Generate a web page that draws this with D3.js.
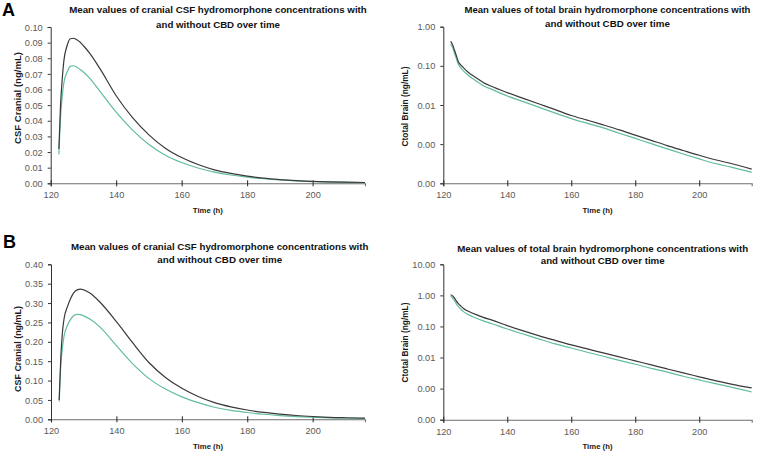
<!DOCTYPE html>
<html>
<head>
<meta charset="utf-8">
<script src="https://cdn.jsdelivr.net/npm/d3@7"></script>
<style>
  html, body { margin: 0; padding: 0; background: #ffffff; }
  svg { display: block; }
</style>
</head>
<body>
<svg id="chart" width="759" height="452"></svg>
<script>
// ---------------- DATA ----------------
const panelLetters = ["A", "B"];
const titleLine1CSF = "Mean values of cranial CSF hydromorphone concentrations with";
const titleLine1Brain = "Mean values of total brain hydromorphone concentrations with";
const titleLine2 = "and without CBD over time";
const yTitleCSF = "CSF Cranial (ng/mL)";
const yTitleBrain = "Ctotal Brain (ng/mL)";
const xTitle = "Time (h)";

const xTicks = [120, 140, 160, 180, 200];
const csfATicks = [0, 0.01, 0.02, 0.03, 0.04, 0.05, 0.06, 0.07, 0.08, 0.09, 0.10];
const csfBTicks = [0, 0.05, 0.10, 0.15, 0.20, 0.25, 0.30, 0.35, 0.40];
const brainATicks = [0.0001, 0.001, 0.01, 0.1, 1];
const brainBTicks = [0.0001, 0.001, 0.01, 0.1, 1, 10];

// Time points (h)
const timeCSF = [122.5, 123, 123.5, 124, 125, 126, 127, 128, 129, 130, 132, 135, 140, 145, 150, 155, 160, 165, 170, 175, 180, 185, 190, 195, 200, 205, 210, 216];
// Panel A – cranial CSF (ng/mL)
const csfA_without = [0.022, 0.050, 0.066, 0.078, 0.088, 0.0925, 0.0928, 0.0918, 0.0902, 0.088, 0.083, 0.0735, 0.056, 0.042, 0.031, 0.0225, 0.0165, 0.0120, 0.0086, 0.0063, 0.0046, 0.0033, 0.0024, 0.0017, 0.0012, 0.0009, 0.0007, 0.0005];
const csfA_with    = [0.0185, 0.042, 0.055, 0.064, 0.071, 0.0748, 0.0752, 0.0742, 0.0728, 0.0712, 0.067, 0.059, 0.0455, 0.034, 0.0248, 0.018, 0.0133, 0.0098, 0.0072, 0.0053, 0.0039, 0.0029, 0.0021, 0.0015, 0.0011, 0.0008, 0.0006, 0.0004];
// Panel B – cranial CSF (ng/mL)
const csfB_without = [0.05, 0.16, 0.225, 0.26, 0.29, 0.312, 0.327, 0.334, 0.336, 0.334, 0.325, 0.302, 0.252, 0.197, 0.146, 0.108, 0.080, 0.059, 0.043, 0.032, 0.024, 0.018, 0.0135, 0.0098, 0.0072, 0.0052, 0.004, 0.003];
const csfB_with    = [0.046, 0.14, 0.185, 0.215, 0.242, 0.258, 0.268, 0.271, 0.270, 0.267, 0.258, 0.238, 0.190, 0.143, 0.105, 0.078, 0.058, 0.043, 0.031, 0.023, 0.0175, 0.013, 0.0097, 0.0071, 0.0052, 0.0038, 0.0028, 0.002];

const timeBrain = [122.3, 123, 123.5, 124, 124.7, 125.5, 126.3, 127.5, 129, 130.5, 132.5, 135, 140, 145, 150, 155, 160, 165, 170, 175, 180, 185, 190, 195, 200, 205, 210, 216.4];
// Panel A – total brain (ng/mL)
const brainA_without = [0.42, 0.33, 0.25, 0.19, 0.128, 0.105, 0.090, 0.072, 0.058, 0.048, 0.0375, 0.030, 0.0207, 0.0148, 0.0106, 0.0076, 0.0054, 0.0041, 0.0031, 0.00232, 0.0017, 0.00125, 0.00092, 0.00069, 0.00052, 0.0004, 0.00032, 0.00023];
const brainA_with    = [0.357, 0.28, 0.21, 0.16, 0.110, 0.089, 0.0745, 0.060, 0.048, 0.040, 0.031, 0.0254, 0.0170, 0.0122, 0.0087, 0.0062, 0.0045, 0.0034, 0.0026, 0.0019, 0.0014, 0.00103, 0.00076, 0.00056, 0.00042, 0.00032, 0.00026, 0.00019];
// Panel B – total brain (ng/mL)
const brainB_without = [1.05, 0.95, 0.82, 0.68, 0.54, 0.45, 0.38, 0.32, 0.27, 0.235, 0.196, 0.163, 0.106, 0.072, 0.050, 0.0356, 0.0255, 0.0189, 0.0141, 0.0105, 0.0078, 0.0058, 0.0043, 0.0032, 0.0024, 0.0018, 0.0014, 0.00105];
const brainB_with    = [0.95, 0.80, 0.68, 0.55, 0.44, 0.36, 0.30, 0.25, 0.21, 0.18, 0.152, 0.125, 0.083, 0.057, 0.0392, 0.0275, 0.0203, 0.0148, 0.0110, 0.0081, 0.0061, 0.0045, 0.0034, 0.0025, 0.0019, 0.00145, 0.00112, 0.00078];

// ---------------- DRAWING ----------------
const svg = d3.select("#chart");
const FONT = "'Liberation Sans', Arial, sans-serif";
const COL_WITHOUT = "#3a3a3a";
const COL_WITH = "#62bd98";
const AXIS_COL = "#6e6e6e";
const LABEL_COL = "#595959";

// scale font size so that the natural text width equals the target width
function fitText(sel, width, baseSize) {
  sel.attr("font-size", baseSize);
  const w = sel.node().getComputedTextLength();
  if (w > 0) sel.attr("font-size", (baseSize * width / w).toFixed(2));
}

const panels = [
  { x0: 50.7, x1: 365, y0: 27, y1: 183.3, xMax: 216, type: "lin", domain: [0, 0.10], ticks: csfATicks,
    t: timeCSF, s1: csfA_without, s2: csfA_with, title1: titleLine1CSF, tCx: 218, tY1: 13, tY2: 27.5, tW1: 298, tW2: 124,
    yTitle: yTitleCSF, yTx: 17.5, yTy: 98, yTw: 92, xTy: 213.3 },
  { x0: 443.3, x1: 751.7, y0: 26.7, y1: 183.3, xMax: 216.4, type: "log", domain: [0.0001, 1], ticks: brainATicks,
    t: timeBrain, s1: brainA_without, s2: brainA_with, title1: titleLine1Brain, tCx: 607.5, tY1: 12.7, tY2: 27.3, tW1: 286, tW2: 125,
    yTitle: yTitleBrain, yTx: 405.5, yTy: 106.5, yTw: 80, xTy: 213.3 },
  { x0: 51, x1: 365, y0: 264.3, y1: 419.3, xMax: 216, type: "lin", domain: [0, 0.40], ticks: csfBTicks,
    t: timeCSF, s1: csfB_without, s2: csfB_with, title1: titleLine1CSF, tCx: 219.7, tY1: 250, tY2: 262.7, tW1: 298, tW2: 125,
    yTitle: yTitleCSF, yTx: 17.5, yTy: 349, yTw: 86, xTy: 449 },
  { x0: 443.3, x1: 751.7, y0: 264.3, y1: 419.7, xMax: 216.4, type: "log", domain: [0.0001, 10], ticks: brainBTicks,
    t: timeBrain, s1: brainB_without, s2: brainB_with, title1: titleLine1Brain, tCx: 602.7, tY1: 251.5, tY2: 264.3, tW1: 291, tW2: 124,
    yTitle: yTitleBrain, yTx: 405.5, yTy: 342.5, yTw: 80, xTy: 449 }
];

panels.forEach(p => {
  const g = svg.append("g");
  const x = d3.scaleLinear().domain([120, p.xMax]).range([p.x0, p.x1]);
  const y = (p.type === "log" ? d3.scaleLog() : d3.scaleLinear()).domain(p.domain).range([p.y1, p.y0]);

  // x axis
  const xAxis = g.append("g").attr("transform", `translate(0,${p.y1})`)
    .call(d3.axisBottom(x).tickValues(xTicks).tickSizeOuter(0).tickSize(3).tickFormat(d3.format("d")));
  xAxis.select(".domain").attr("stroke", AXIS_COL).attr("stroke-width", 1.1);
  xAxis.selectAll(".tick line").attr("stroke", "#222").attr("y1", -3).attr("y2", 3);
  xAxis.selectAll(".tick text").attr("y", 15).attr("dy", 0)
    .attr("font-family", FONT).attr("font-size", 9.2).attr("fill", LABEL_COL);

  // y axis
  const yAxis = g.append("g").attr("transform", `translate(${p.x0},0)`)
    .call(d3.axisLeft(y).tickValues(p.ticks).tickSizeOuter(0).tickSize(3).tickFormat(d3.format(".2f")));
  yAxis.select(".domain").attr("stroke", "#333").attr("stroke-width", 1);
  yAxis.selectAll(".tick line").attr("stroke", "#333");
  yAxis.selectAll(".tick text").attr("x", -8).attr("dy", "0.34em")
    .attr("font-family", FONT).attr("font-size", 9.2).attr("fill", LABEL_COL);

  // lines
  const line = d3.line().x((d, i) => x(p.t[i])).y(d => y(d)).curve(d3.curveMonotoneX);
  g.append("path").datum(p.s2).attr("d", line).attr("fill", "none")
    .attr("stroke", COL_WITH).attr("stroke-width", 1.2);
  g.append("path").datum(p.s1).attr("d", line).attr("fill", "none")
    .attr("stroke", COL_WITHOUT).attr("stroke-width", 1.2);

  // titles
  const t1 = g.append("text").attr("x", p.tCx).attr("y", p.tY1).attr("text-anchor", "middle")
    .attr("font-family", FONT).attr("font-weight", "bold").attr("fill", "#111")
    .text(p.title1);
  fitText(t1, p.tW1, 10);
  const t2 = g.append("text").attr("x", p.tCx).attr("y", p.tY2).attr("text-anchor", "middle")
    .attr("font-family", FONT).attr("font-weight", "bold").attr("fill", "#111")
    .text(titleLine2);
  fitText(t2, p.tW2, 10);

  // axis titles
  const yt = g.append("text").attr("transform", `translate(${p.yTx},${p.yTy}) rotate(-90)`)
    .attr("text-anchor", "middle").attr("dy", "0.35em")
    .attr("font-family", FONT).attr("font-weight", "bold").attr("fill", "#1a1a1a")
    .text(p.yTitle);
  fitText(yt, p.yTw, 9);
  const xt = g.append("text").attr("x", (p.x0 + p.x1) / 2).attr("y", p.xTy).attr("text-anchor", "middle")
    .attr("font-family", FONT).attr("font-weight", "bold").attr("fill", "#1a1a1a")
    .text(xTitle);
  fitText(xt, 30, 9);
});

// panel letters
svg.append("text").attr("x", 2).attr("y", 15.5).attr("font-family", FONT).attr("font-weight", "bold")
  .attr("font-size", 18).attr("fill", "#000").text(panelLetters[0]);
svg.append("text").attr("x", 3).attr("y", 248).attr("font-family", FONT).attr("font-weight", "bold")
  .attr("font-size", 18).attr("fill", "#000").text(panelLetters[1]);
</script>
</body>
</html>
